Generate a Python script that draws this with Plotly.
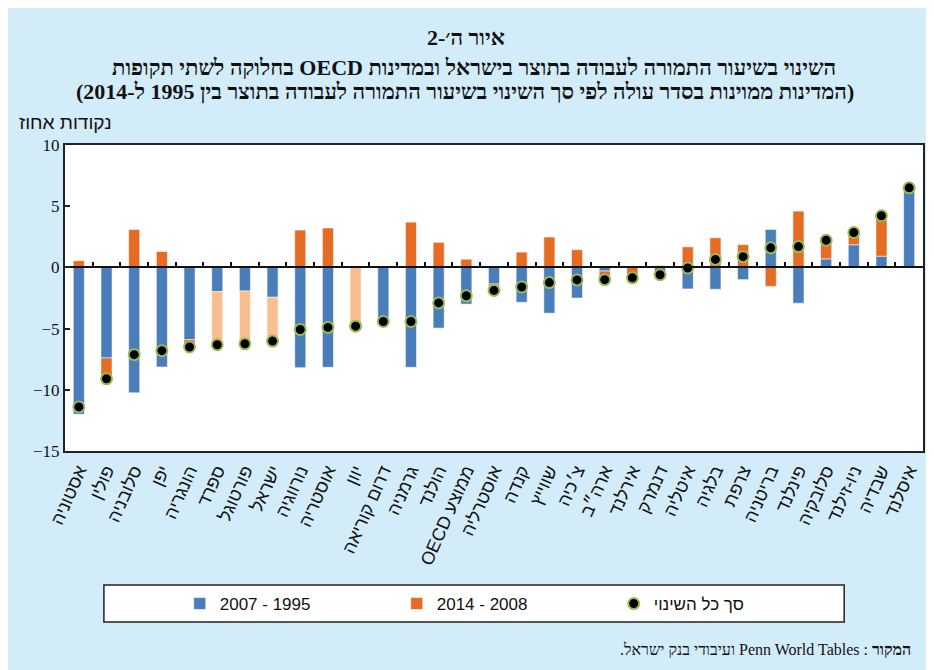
import plotly.graph_objects as go

# ---------------- data ----------------
countries = [
    "אסטוניה", "פולין", "סלובניה", "יפן", "הונגריה", "ספרד", "פורטוגל", "ישראל",
    "נורווגיה", "אוסטריה", "יוון", "דרום קוריאה", "גרמניה", "הולנד", "OECD ממוצע",
    "אוסטרליה", "קנדה", "שווייץ", "צ׳כיה", "ארה״ב", "אירלנד", "דנמרק", "איטליה",
    "בלגיה", "צרפת", "בריטניה", "פינלנד", "סלובקיה", "ניו-זילנד", "שבדיה", "איסלנד",
]
change_1995_2007 = [
    -12.0, -7.4, -10.25, -8.13, -5.9, -1.98, -1.93, -2.44,
    -8.19, -8.16, 0.0, -4.42, -8.16, -4.96, -3.0,
    -1.36, -2.85, -3.74, -2.5, -0.3, 0.1, -0.75, -1.76,
    -1.79, -1.0, 3.1, -2.93, 0.7, 1.85, 0.92, 6.5,
]
change_2008_2014 = [
    0.55, -1.7, 3.1, 1.3, -0.6, -4.34, -4.31, -3.58,
    3.05, 3.22, -4.8, 0.0, 3.7, 2.05, 0.67,
    -0.52, 1.25, 2.48, 1.45, -0.7, -0.95, 0.15, 1.68,
    2.42, 1.86, -1.55, 4.6, 1.52, 1.0, 3.3, 0.0,
]
total_change = [
    -11.4, -9.1, -7.13, -6.8, -6.5, -6.32, -6.24, -6.02,
    -5.07, -4.9, -4.8, -4.42, -4.42, -2.9, -2.32,
    -1.88, -1.6, -1.24, -1.02, -1.0, -0.85, -0.6, -0.05,
    0.65, 0.88, 1.6, 1.7, 2.22, 2.85, 4.22, 6.5,
]
highlighted = ["ספרד", "פורטוגל", "ישראל", "יוון"]
y_ticks = [10, 5, 0, -5, -10, -15]
y_range = [-15, 10]

# ---------------- style ----------------
BLUE = "#4A7EBB"
ORANGE = "#E56C24"
PEACH = "#F9BE8E"
GREEN = "#9BBB59"
BG = "#D3ECF9"
SERIF = "Liberation Serif, DejaVu Serif, serif"
SANS = "Liberation Sans, DejaVu Sans, sans-serif"
RLE, PDF = "\u202b", "\u202c"

PAGE_W, PAGE_H = 934, 670
OFF = 8                      # page body margin
W, H = PAGE_W - OFF, PAGE_H - OFF
# plot area in page pixels
L, R, T, B = 65, 925, 145, 451


def px(x):
    return (x - L) / (R - L)


def py(y):
    return (B - y) / (B - T)


n = len(countries)
fig = go.Figure()
fig.add_bar(
    x=countries, y=change_1995_2007, name="2007 - 1995",
    marker=dict(color=BLUE, line=dict(color="rgba(255,255,255,0.55)", width=1)),
)
fig.add_bar(
    x=countries, y=change_2008_2014, name="2014 - 2008",
    marker=dict(color=[PEACH if c in highlighted else ORANGE for c in countries],
                line=dict(color="rgba(255,255,255,0.55)", width=1)),
)
fig.add_scatter(
    x=countries, y=total_change, mode="markers", name="סך כל השינוי",
    marker=dict(color="black", size=11, line=dict(color=GREEN, width=2)),
)
# helper trace so the zero-line axis (x2) is drawn
fig.add_scatter(x=[0], y=[0], xaxis="x2", mode="markers",
                marker=dict(opacity=0), showlegend=False, hoverinfo="skip")

fig.update_layout(
    width=W, height=H, autosize=False,
    margin=dict(l=L - OFF, r=PAGE_W - R, t=T - OFF, b=PAGE_H - B, pad=0),
    paper_bgcolor=BG, plot_bgcolor="white",
    barmode="relative", bargap=0.6,
    showlegend=True,
    legend=dict(orientation="h", x=px(180), y=py(604), xanchor="left", yanchor="middle",
                bgcolor="rgba(0,0,0,0)", borderwidth=0,
                entrywidth=172, entrywidthmode="pixels",
                font=dict(family=SANS, size=17, color="#111")),
    xaxis=dict(type="category", categoryorder="array", categoryarray=countries,
               range=[-0.5, n - 0.5], showline=True, mirror=True,
               linecolor="#222", linewidth=2, ticks="", showgrid=False,
               tickangle=-66, tickfont=dict(family=SANS, size=18, color="#111")),
    xaxis2=dict(overlaying="x", anchor="free", side="top",
                position=(0 - y_range[0]) / (y_range[1] - y_range[0]),
                range=[-0.5, n - 0.5], tickvals=[i + 0.5 for i in range(n - 1)],
                showticklabels=False, ticks="outside", ticklen=4, tickwidth=2,
                tickcolor="#111", showline=True, linecolor="#111", linewidth=2,
                showgrid=False, zeroline=False),
    yaxis=dict(range=y_range, tickvals=y_ticks, ticks="inside", ticklen=5,
               tickwidth=1.5, tickcolor="#222", showline=True, mirror=True,
               linecolor="#222", linewidth=2, showgrid=False, zeroline=False,
               tickfont=dict(family=SERIF, size=17, color="#111")),
)

shapes = [
    # legend frame
    dict(type="rect", xref="paper", yref="paper", x0=px(104), x1=px(846), y0=py(622), y1=py(585),
         fillcolor="white", line=dict(color="#222", width=1.5), layer="below"),
]
fig.update_layout(shapes=shapes)

ann = [
    dict(text=RLE + "איור ה׳-2" + PDF, x=px(467), y=py(38), size=22),
    dict(text=RLE + "השינוי בשיעור התמורה לעבודה בתוצר בישראל ובמדינות OECD בחלוקה לשתי תקופות" + PDF,
         x=px(475), y=py(67), size=22),
    dict(text=RLE + "(המדינות ממוינות בסדר עולה לפי סך השינוי בשיעור התמורה לעבודה בתוצר בין 1995 ל-2014)" + PDF,
         x=px(466), y=py(92), size=22),
]
for a in ann:
    fig.add_annotation(text=a["text"], x=a["x"], y=a["y"], xref="paper", yref="paper",
                       xanchor="center", yanchor="middle", showarrow=False,
                       font=dict(family=SERIF, size=a["size"], color="#111", weight="bold"))

fig.add_annotation(text="נקודות אחוז", x=px(17), y=py(122), xref="paper", yref="paper",
                   xanchor="left", yanchor="middle", showarrow=False,
                   font=dict(family=SANS, size=19, color="#111"))
# source line, written in visual (left-to-right) order
fig.add_annotation(text=".ועיבודי בנק ישראל Penn World Tables : <b>המקור</b>",
                   x=px(915), y=py(649), xref="paper", yref="paper",
                   xanchor="right", yanchor="middle", showarrow=False,
                   font=dict(family=SERIF, size=16, color="#111"))

fig.write_html("out.html")
